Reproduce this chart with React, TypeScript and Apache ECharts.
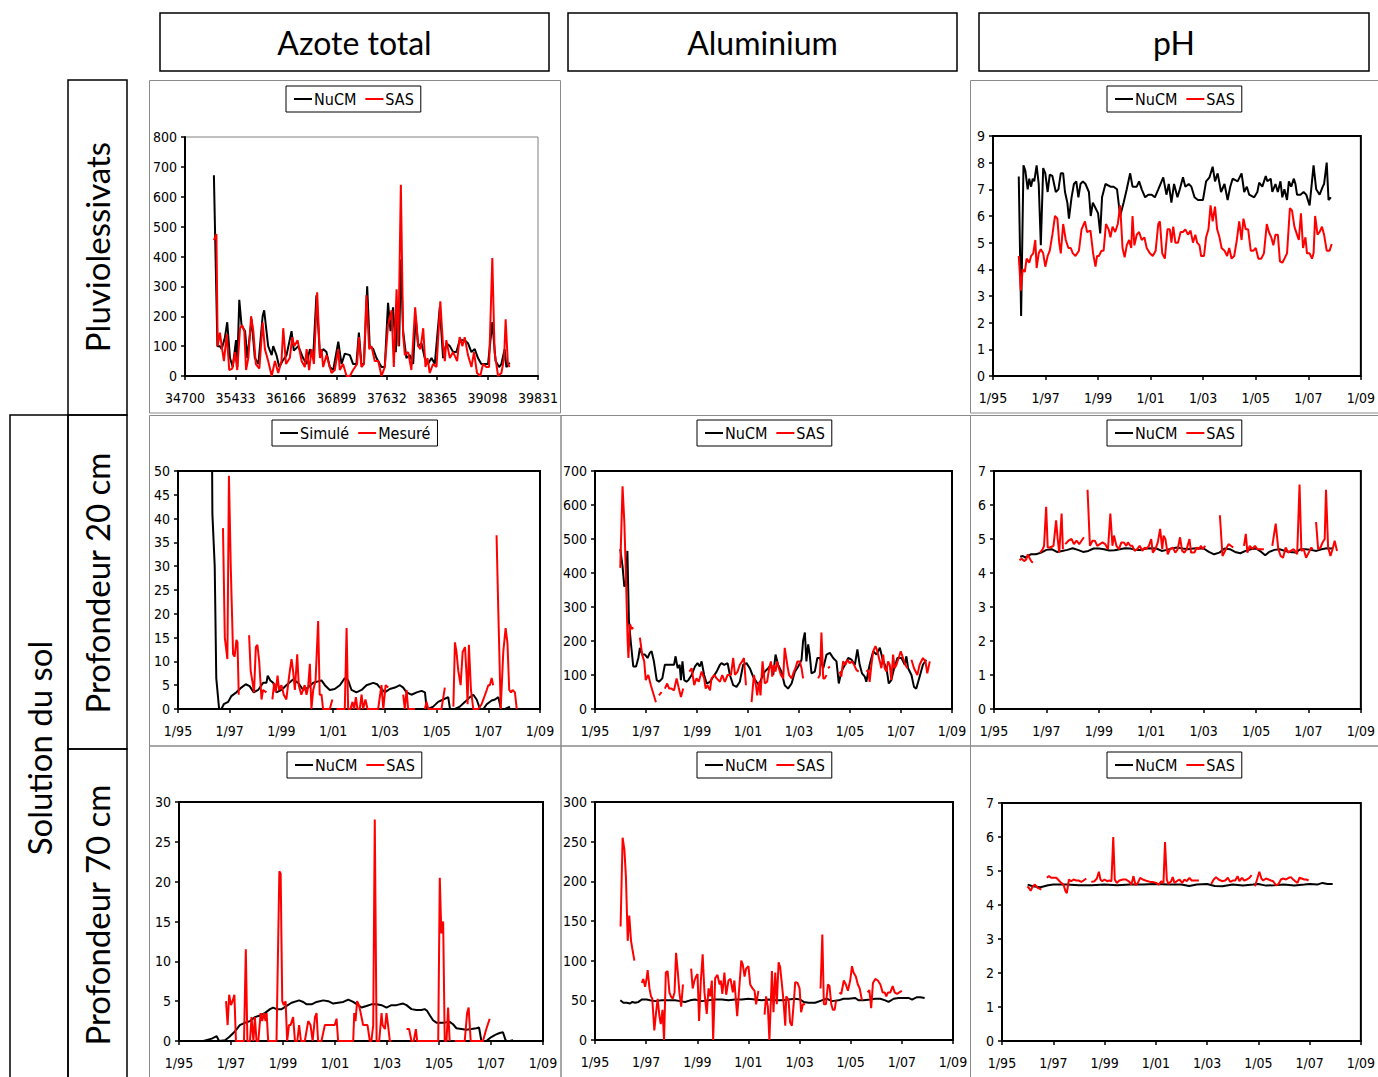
import React, { useEffect, useRef } from 'react';
import * as echarts from 'echarts';

// ---------- DATA (decimal years, values) ----------
const columnTitles = ['Azote total', 'Aluminium', 'pH'];
const rowTitles = ['Pluviolessivats', 'Profondeur 20 cm', 'Profondeur 70 cm'];
const groupTitle = 'Solution du sol';
const serialTicks = [34700, 39831, 733];

const azPluvioNucm = [[1996.15,672],[1996.29,100],[1996.39,100],[1996.46,90],[1996.59,130],[1996.68,180],[1996.79,60],[1996.90,30],[1997.03,120],[1997.08,30],[1997.16,255],[1997.25,170],[1997.39,150],[1997.48,60],[1997.65,190],[1997.78,60],[1997.92,40],[1998.09,200],[1998.15,220],[1998.31,100],[1998.45,70],[1998.51,100],[1998.64,70],[1998.75,30],[1998.88,50],[1999.04,70],[1999.24,150],[1999.33,85],[1999.51,100],[1999.70,60],[1999.84,40],[1999.97,90],[2000.10,60],[2000.23,270],[2000.37,70],[2000.50,90],[2000.63,80],[2000.76,30],[2000.90,20],[2001.10,115],[2001.23,40],[2001.36,75],[2001.56,70],[2001.69,40],[2001.82,40],[2001.92,145],[2002.02,40],[2002.12,40],[2002.25,300],[2002.35,100],[2002.49,90],[2002.62,60],[2002.82,30],[2002.95,30],[2003.08,245],[2003.18,150],[2003.28,230],[2003.39,80],[2003.44,230],[2003.52,100],[2003.59,390],[2003.68,150],[2003.81,60],[2003.95,70],[2004.08,40],[2004.18,200],[2004.28,100],[2004.41,110],[2004.54,60],[2004.67,40],[2004.81,60],[2004.94,40],[2005.14,230],[2005.27,60],[2005.40,110],[2005.54,100],[2005.67,80],[2005.80,80],[2005.93,120],[2006.13,120],[2006.26,110],[2006.40,80],[2006.53,90],[2006.66,60],[2006.79,40],[2006.93,40],[2007.06,40],[2007.23,180],[2007.36,50],[2007.50,30],[2007.59,40],[2007.72,90],[2007.79,30],[2007.92,45]];
const azPluvioSas = [[1996.15,455],[1996.25,475],[1996.30,100],[1996.39,145],[1996.46,100],[1996.55,50],[1996.66,140],[1996.76,20],[1996.88,25],[1996.99,80],[1997.08,20],[1997.19,160],[1997.27,170],[1997.36,150],[1997.43,20],[1997.52,60],[1997.63,200],[1997.72,150],[1997.82,40],[1997.96,25],[1998.09,180],[1998.18,90],[1998.31,50],[1998.45,0],[1998.58,50],[1998.71,10],[1998.84,50],[1998.91,160],[1999.02,40],[1999.17,60],[1999.27,130],[1999.35,100],[1999.48,120],[1999.64,50],[1999.77,30],[1999.84,90],[1999.94,20],[2000.04,90],[2000.13,40],[2000.26,280],[2000.37,60],[2000.43,90],[2000.50,30],[2000.63,70],[2000.83,10],[2000.96,20],[2001.10,90],[2001.16,20],[2001.29,40],[2001.43,0],[2001.56,0],[2001.69,20],[2001.85,40],[2001.92,130],[2002.02,30],[2002.12,40],[2002.22,270],[2002.33,90],[2002.42,100],[2002.55,50],[2002.69,50],[2002.82,0],[2002.95,30],[2003.08,170],[2003.22,220],[2003.31,30],[2003.42,290],[2003.49,100],[2003.59,640],[2003.68,140],[2003.75,70],[2003.88,80],[2004.01,20],[2004.16,230],[2004.28,100],[2004.37,90],[2004.48,160],[2004.57,30],[2004.65,60],[2004.74,10],[2004.87,40],[2005.01,30],[2005.16,250],[2005.27,100],[2005.34,50],[2005.40,120],[2005.54,60],[2005.67,80],[2005.83,50],[2005.93,130],[2006.04,100],[2006.13,130],[2006.26,70],[2006.40,30],[2006.50,80],[2006.62,10],[2006.75,0],[2006.86,40],[2006.99,30],[2007.10,30],[2007.23,395],[2007.32,80],[2007.46,0],[2007.59,10],[2007.70,60],[2007.76,190],[2007.85,40],[2007.92,30]];

const phPluvioNucm = [[1995.98,7.48],[1996.07,2.25],[1996.16,7.9],[1996.23,7.7],[1996.32,7.0],[1996.38,7.4],[1996.45,7.1],[1996.51,7.4],[1996.57,7.3],[1996.66,7.9],[1996.74,7.2],[1996.82,4.9],[1996.91,7.8],[1996.99,7.6],[1997.08,6.9],[1997.16,7.55],[1997.26,7.5],[1997.39,6.9],[1997.49,7.0],[1997.58,7.6],[1997.67,7.6],[1997.74,6.9],[1997.83,6.5],[1997.89,5.9],[1997.99,6.7],[1998.08,7.2],[1998.17,7.3],[1998.25,6.7],[1998.33,7.2],[1998.42,7.3],[1998.52,7.2],[1998.65,6.9],[1998.72,6.0],[1998.80,6.5],[1998.90,6.3],[1999.00,6.1],[1999.08,5.35],[1999.15,6.7],[1999.28,7.2],[1999.47,7.1],[1999.59,7.1],[1999.72,7.0],[1999.84,6.0],[1999.97,6.5],[2000.09,7.0],[2000.22,7.6],[2000.31,7.1],[2000.47,7.1],[2000.56,7.3],[2000.66,7.0],[2000.79,6.7],[2000.91,6.8],[2001.04,6.8],[2001.16,6.7],[2001.29,7.0],[2001.48,7.45],[2001.60,6.8],[2001.69,7.2],[2001.79,6.5],[2001.89,7.2],[2002.02,6.7],[2002.11,7.0],[2002.23,7.45],[2002.32,7.1],[2002.45,7.2],[2002.55,7.1],[2002.67,6.7],[2002.80,6.6],[2002.99,6.6],[2003.11,7.3],[2003.24,7.45],[2003.36,7.85],[2003.45,7.3],[2003.55,7.6],[2003.68,6.9],[2003.81,7.2],[2003.93,6.6],[2004.03,7.1],[2004.12,7.4],[2004.31,7.3],[2004.46,7.6],[2004.56,6.9],[2004.66,7.1],[2004.75,6.8],[2004.94,6.7],[2005.06,6.9],[2005.13,7.25],[2005.25,7.1],[2005.38,7.5],[2005.44,7.3],[2005.57,7.4],[2005.63,6.9],[2005.75,7.2],[2005.84,6.9],[2005.94,7.3],[2006.01,6.7],[2006.09,7.0],[2006.19,6.6],[2006.26,7.3],[2006.35,7.1],[2006.45,7.4],[2006.51,7.2],[2006.57,6.8],[2006.70,6.8],[2006.82,6.9],[2006.92,6.8],[2007.05,6.4],[2007.20,7.9],[2007.30,7.0],[2007.43,6.8],[2007.55,7.1],[2007.60,7.2],[2007.70,8.0],[2007.77,6.6],[2007.86,6.7]];
const phPluvioSas = [[1995.98,4.5],[1996.06,3.2],[1996.13,4.0],[1996.21,3.9],[1996.28,4.4],[1996.38,4.25],[1996.45,4.5],[1996.53,4.6],[1996.61,5.1],[1996.66,4.05],[1996.74,4.6],[1996.82,4.75],[1996.91,4.6],[1996.99,4.1],[1997.08,4.5],[1997.16,4.7],[1997.26,5.3],[1997.36,6.0],[1997.45,5.9],[1997.52,5.0],[1997.58,4.6],[1997.67,5.7],[1997.77,5.1],[1997.87,4.8],[1997.96,4.8],[1998.04,4.6],[1998.14,4.5],[1998.27,4.7],[1998.37,5.5],[1998.50,5.8],[1998.58,5.4],[1998.71,5.45],[1998.81,4.6],[1998.90,4.1],[1998.96,4.5],[1999.03,4.5],[1999.13,4.7],[1999.21,4.7],[1999.30,5.7],[1999.40,5.5],[1999.47,5.2],[1999.55,5.6],[1999.65,5.4],[1999.75,5.7],[1999.84,6.4],[1999.93,4.8],[2000.01,4.45],[2000.09,4.9],[2000.18,5.1],[2000.26,4.8],[2000.31,6.0],[2000.38,4.9],[2000.47,5.3],[2000.56,5.4],[2000.66,5.1],[2000.76,5.2],[2000.85,4.8],[2000.97,4.6],[2001.08,4.5],[2001.19,4.7],[2001.29,5.7],[2001.35,5.8],[2001.44,4.6],[2001.54,4.4],[2001.64,5.5],[2001.73,5.5],[2001.79,5.0],[2001.86,5.6],[2001.94,5.0],[2002.04,5.0],[2002.14,5.4],[2002.23,5.4],[2002.32,5.5],[2002.42,5.3],[2002.52,5.45],[2002.61,5.0],[2002.70,5.3],[2002.77,5.0],[2002.86,4.9],[2002.92,4.5],[2003.03,4.5],[2003.11,5.2],[2003.20,5.5],[2003.28,6.4],[2003.36,5.8],[2003.45,6.35],[2003.53,5.5],[2003.62,5.2],[2003.70,4.8],[2003.81,4.7],[2003.91,4.5],[2003.99,4.8],[2004.08,4.4],[2004.18,4.5],[2004.28,5.1],[2004.37,5.8],[2004.46,5.1],[2004.53,5.9],[2004.62,5.5],[2004.71,5.5],[2004.81,4.7],[2004.91,4.7],[2005.00,4.8],[2005.10,4.4],[2005.21,4.4],[2005.31,4.6],[2005.42,5.7],[2005.50,5.4],[2005.59,5.2],[2005.67,4.9],[2005.75,5.3],[2005.84,5.3],[2005.92,4.3],[2006.01,4.25],[2006.09,4.4],[2006.19,4.6],[2006.30,6.3],[2006.38,6.2],[2006.47,5.6],[2006.57,5.3],[2006.64,5.1],[2006.72,6.1],[2006.80,4.8],[2006.89,5.2],[2006.95,4.6],[2007.05,4.6],[2007.14,4.4],[2007.20,4.6],[2007.26,6.0],[2007.35,5.3],[2007.43,5.4],[2007.52,5.6],[2007.60,5.3],[2007.70,4.7],[2007.81,4.7],[2007.89,4.95]];

const az20Simule = [[1996.24,120],[1996.33,41],[1996.42,30],[1996.48,6.5],[1996.59,0],[1996.68,0],[1996.77,1],[1996.94,1.5],[1997.06,2.7],[1997.26,3.5],[1997.45,4.5],[1997.62,5.2],[1997.77,4.8],[1997.93,3.5],[1998.10,4.0],[1998.29,5.5],[1998.42,5.5],[1998.47,7.0],[1998.57,6.0],[1998.68,5.5],[1998.81,3.5],[1999.00,4.0],[1999.19,5.0],[1999.45,6.2],[1999.65,5.5],[1999.84,4.0],[2000.03,4.5],[2000.23,5.5],[2000.42,5.8],[2000.55,6.0],[2000.68,5.0],[2000.87,4.0],[2001.06,4.2],[2001.26,5.0],[2001.45,6.5],[2001.58,6.0],[2001.71,4.0],[2001.90,3.5],[2002.10,4.0],[2002.29,5.0],[2002.55,5.5],[2002.70,5.2],[2002.81,4.5],[2003.00,3.5],[2003.19,4.2],[2003.39,4.5],[2003.58,5.0],[2003.71,4.5],[2003.84,3.5],[2004.03,3.0],[2004.23,3.5],[2004.42,3.8],[2004.55,3.5],[2004.61,0.5],[2004.68,0],[2004.87,0.5],[2005.06,1.5],[2005.26,2.0],[2005.45,2.5],[2005.52,0],[2005.71,0],[2005.90,0.5],[2006.10,1.5],[2006.29,2.5],[2006.42,3.0],[2006.55,2.0],[2006.68,0],[2006.81,0],[2006.94,1.0],[2007.13,1.8],[2007.26,2.0],[2007.39,2.5],[2007.49,0],[2007.65,0],[2007.84,0.5]];
const az20Mesure = [[1996.74,38],[1996.81,15],[1996.91,10.5],[1996.97,49],[1997.04,30],[1997.13,11.5],[1997.19,11],[1997.26,14.5],[1997.30,14],[1997.35,3],[1997.5,null],[1997.75,15.5],[1997.81,8],[1997.90,5],[1997.94,3.5],[1998.01,13],[1998.07,13.5],[1998.14,10],[1998.23,2],[1998.29,4],[1998.42,3.5],[1998.55,null],[1998.65,2],[1998.72,5.5],[1998.78,3.5],[1998.85,7],[1998.91,4],[1999.00,5],[1999.09,3],[1999.19,2],[1999.30,7],[1999.39,10.5],[1999.45,8],[1999.52,4],[1999.61,11.5],[1999.67,5],[1999.77,3],[1999.90,5],[1999.97,3],[2000.03,4.5],[2000.10,9.5],[2000.16,0],[2000.23,4],[2000.32,6],[2000.42,18.5],[2000.48,3],[2000.55,3],[2000.61,0],[2000.74,0],[2000.87,0],[2000.97,2],[2001.05,null],[2001.13,0],[2001.26,0],[2001.39,0],[2001.45,0],[2001.52,17],[2001.58,0],[2001.67,0],[2001.75,1.5],[2001.81,0],[2001.88,2.5],[2001.94,0],[2002.03,0],[2002.10,3],[2002.16,0],[2002.25,2],[2002.33,0],[2002.48,0],[2002.61,0],[2002.74,0],[2002.87,5],[2002.94,0],[2003.03,5],[2003.13,4.5],[2003.4,null],[2003.71,3],[2003.77,0],[2003.84,4],[2003.90,0],[2004.03,0],[2004.16,0],[2004.35,null],[2004.55,0],[2004.61,1.5],[2004.68,0],[2004.87,0],[2005.06,0],[2005.19,0],[2005.32,4.5],[2005.5,null],[2005.65,0.5],[2005.71,14],[2005.77,12],[2005.84,8],[2005.93,5],[2006.01,12],[2006.10,13],[2006.16,7],[2006.20,1],[2006.25,13.5],[2006.33,4],[2006.42,0],[2006.61,0],[2006.74,1],[2006.81,2],[2006.94,4],[2007.00,5],[2007.06,5],[2007.13,6.5],[2007.19,5],[2007.25,null],[2007.32,36.5],[2007.39,20],[2007.48,0],[2007.58,12],[2007.67,17],[2007.74,14],[2007.81,4],[2007.88,3.5],[2007.94,4],[2008.03,3.5],[2008.10,0]];

const al20Nucm = [[1995.99,470],[1996.08,420],[1996.15,360],[1996.21,370],[1996.27,465],[1996.33,260],[1996.40,200],[1996.50,125],[1996.61,125],[1996.70,150],[1996.76,180],[1996.85,160],[1996.96,160],[1997.06,150],[1997.15,165],[1997.22,170],[1997.31,140],[1997.42,85],[1997.51,80],[1997.64,90],[1997.74,130],[1997.87,130],[1998.00,130],[1998.10,130],[1998.16,155],[1998.24,120],[1998.32,130],[1998.37,85],[1998.43,140],[1998.50,85],[1998.59,80],[1998.66,85],[1998.79,100],[1998.92,125],[1999.02,135],[1999.11,125],[1999.18,140],[1999.28,100],[1999.38,75],[1999.51,80],[1999.64,95],[1999.77,110],[1999.90,130],[1999.96,135],[2000.07,130],[2000.20,135],[2000.29,100],[2000.42,70],[2000.55,65],[2000.68,80],[2000.81,130],[2000.94,135],[2001.07,120],[2001.20,95],[2001.33,80],[2001.43,70],[2001.53,90],[2001.66,110],[2001.79,120],[2001.90,130],[2001.99,100],[2002.08,160],[2002.18,130],[2002.31,110],[2002.44,70],[2002.57,60],[2002.71,75],[2002.84,110],[2002.97,125],[2003.10,145],[2003.16,200],[2003.23,225],[2003.29,140],[2003.36,190],[2003.42,160],[2003.49,105],[2003.62,110],[2003.72,150],[2003.82,150],[2003.95,120],[2004.08,160],[2004.21,165],[2004.34,150],[2004.47,140],[2004.56,75],[2004.66,110],[2004.80,130],[2004.93,150],[2005.06,145],[2005.19,130],[2005.29,175],[2005.38,130],[2005.47,105],[2005.58,95],[2005.64,80],[2005.77,130],[2005.91,170],[2006.04,160],[2006.17,180],[2006.30,140],[2006.43,120],[2006.52,75],[2006.62,85],[2006.73,120],[2006.86,150],[2007.02,150],[2007.15,130],[2007.21,155],[2007.28,120],[2007.41,100],[2007.51,65],[2007.60,60],[2007.73,95],[2007.86,130],[2007.99,145]];
const al20Sas = [[1995.99,415],[1996.08,655],[1996.15,550],[1996.21,400],[1996.28,200],[1996.31,150],[1996.37,250],[1996.44,235],[1996.50,240],[1996.6,null],[1996.76,210],[1996.85,160],[1996.93,140],[1996.99,85],[1997.09,100],[1997.19,70],[1997.29,45],[1997.39,20],[1997.45,null],[1997.51,40],[1997.61,50],[1997.68,null],[1997.74,60],[1997.83,75],[1997.91,60],[1998.00,60],[1998.10,55],[1998.20,90],[1998.29,60],[1998.37,35],[1998.46,60],[1998.6,null],[1998.70,110],[1998.79,120],[1998.89,70],[1998.98,90],[1999.07,80],[1999.18,110],[1999.28,90],[1999.34,60],[1999.41,70],[1999.51,55],[1999.57,90],[1999.68,100],[1999.77,90],[1999.90,80],[1999.99,100],[2000.09,80],[2000.20,100],[2000.33,100],[2000.42,150],[2000.49,100],[2000.59,110],[2000.68,130],[2000.77,140],[2000.84,150],[2000.92,70],[2001.03,null],[2001.14,20],[2001.23,100],[2001.31,70],[2001.36,40],[2001.43,80],[2001.49,40],[2001.57,140],[2001.66,75],[2001.75,80],[2001.83,120],[2001.90,140],[2001.95,95],[2002.01,130],[2002.08,110],[2002.14,140],[2002.21,120],[2002.29,100],[2002.38,90],[2002.44,180],[2002.54,130],[2002.61,100],[2002.71,90],[2002.80,110],[2002.86,120],[2002.94,140],[2003.03,140],[2003.10,120],[2003.16,90],[2003.45,null],[2003.75,90],[2003.82,100],[2003.88,225],[2003.95,90],[2004.01,90],[2004.08,100],[2004.11,null],[2004.14,120],[2004.21,125],[2004.4,null],[2004.60,110],[2004.66,95],[2004.73,140],[2004.82,130],[2004.90,145],[2004.99,135],[2005.08,140],[2005.16,130],[2005.25,115],[2005.34,110],[2005.5,null],[2005.64,110],[2005.71,115],[2005.77,80],[2005.84,130],[2005.91,170],[2006.00,185],[2006.07,170],[2006.17,140],[2006.23,120],[2006.30,160],[2006.36,120],[2006.43,110],[2006.49,140],[2006.56,130],[2006.62,85],[2006.69,160],[2006.75,120],[2006.82,130],[2006.91,150],[2006.99,170],[2007.08,150],[2007.17,130],[2007.25,120],[2007.33,null],[2007.41,145],[2007.51,120],[2007.64,100],[2007.73,130],[2007.86,150],[2007.96,140],[2008.03,105],[2008.13,140]];

const ph20Nucm = [[1996.0,4.48],[1996.1,4.5],[1996.2,4.45],[1996.4,4.55],[1996.6,4.55],[1996.8,4.6],[1997.0,4.68],[1997.2,4.7],[1997.4,4.62],[1997.6,4.65],[1997.8,4.68],[1998.0,4.73],[1998.2,4.68],[1998.4,4.62],[1998.6,4.65],[1998.8,4.72],[1999.0,4.72],[1999.2,4.7],[1999.4,4.66],[1999.6,4.67],[1999.8,4.7],[2000.0,4.73],[2000.2,4.72],[2000.4,4.68],[2000.6,4.68],[2000.8,4.72],[2001.0,4.73],[2001.2,4.72],[2001.4,4.65],[2001.6,4.68],[2001.8,4.73],[2002.0,4.75],[2002.2,4.72],[2002.4,4.7],[2002.6,4.72],[2002.8,4.73],[2003.0,4.72],[2003.2,4.62],[2003.4,4.55],[2003.6,4.6],[2003.8,4.72],[2004.0,4.7],[2004.2,4.62],[2004.4,4.58],[2004.6,4.65],[2004.8,4.7],[2005.0,4.72],[2005.2,4.62],[2005.35,4.52],[2005.5,4.62],[2005.7,4.68],[2005.9,4.7],[2006.1,4.65],[2006.3,4.62],[2006.5,4.6],[2006.7,4.7],[2006.9,4.7],[2007.1,4.68],[2007.3,4.65],[2007.5,4.7],[2007.7,4.73],[2007.9,4.72]];
const ph20Sas = [[1995.97,4.38],[1996.06,4.42],[1996.15,4.35],[1996.23,4.4],[1996.29,4.55],[1996.35,4.45],[1996.42,4.35],[1996.48,4.3],[1996.6,null],[1996.76,4.6],[1996.86,4.7],[1996.91,4.8],[1996.99,5.95],[1997.05,4.75],[1997.14,4.75],[1997.27,4.8],[1997.37,5.55],[1997.43,5.0],[1997.49,4.6],[1997.58,5.75],[1997.63,4.7],[1997.68,null],[1997.72,4.85],[1997.84,4.95],[1997.96,5.0],[1998.05,4.85],[1998.15,4.95],[1998.25,4.85],[1998.34,4.95],[1998.43,5.05],[1998.5,null],[1998.57,6.45],[1998.66,4.8],[1998.76,4.95],[1998.85,4.95],[1998.94,4.8],[1999.04,4.85],[1999.14,4.9],[1999.24,4.85],[1999.35,4.7],[1999.44,5.75],[1999.52,4.8],[1999.58,5.1],[1999.67,4.8],[1999.77,4.7],[1999.86,4.9],[1999.95,4.9],[2000.05,4.8],[2000.11,4.9],[2000.20,4.8],[2000.28,4.8],[2000.37,4.65],[2000.46,4.7],[2000.56,4.8],[2000.66,4.65],[2000.75,4.75],[2000.81,4.7],[2000.91,4.8],[2001.00,5.0],[2001.06,4.6],[2001.16,4.7],[2001.25,4.9],[2001.34,5.3],[2001.42,4.7],[2001.47,5.1],[2001.54,5.0],[2001.63,4.55],[2001.72,4.7],[2001.82,4.75],[2001.92,4.6],[2002.01,4.7],[2002.10,5.05],[2002.18,4.65],[2002.27,4.6],[2002.35,4.7],[2002.46,5.0],[2002.52,4.6],[2002.65,4.6],[2002.73,4.75],[2002.81,4.7],[2002.90,4.8],[2002.96,4.7],[2003.06,4.8],[2003.35,null],[2003.62,5.7],[2003.72,4.5],[2003.85,4.7],[2003.95,4.85],[2004.04,4.8],[2004.13,4.75],[2004.35,null],[2004.54,4.8],[2004.61,5.15],[2004.67,4.6],[2004.76,4.8],[2004.86,4.7],[2004.96,4.8],[2005.05,4.7],[2005.18,4.7],[2005.30,4.7],[2005.45,null],[2005.62,4.8],[2005.75,5.45],[2005.85,4.7],[2005.94,4.5],[2006.03,4.45],[2006.13,4.75],[2006.23,4.6],[2006.32,4.65],[2006.44,4.7],[2006.57,4.55],[2006.66,6.6],[2006.73,4.65],[2006.82,4.7],[2006.91,4.45],[2007.01,4.6],[2007.11,4.75],[2007.16,4.7],[2007.22,null],[2007.29,5.5],[2007.37,4.7],[2007.46,4.75],[2007.54,4.9],[2007.62,5.0],[2007.67,6.45],[2007.75,4.75],[2007.84,4.5],[2007.92,4.7],[2008.00,4.95],[2008.09,4.65]];

const az70Nucm = [[1995.94,0],[1996.26,0.3],[1996.45,0.6],[1996.54,0],[1996.77,0.1],[1996.93,0.5],[1997.15,1.2],[1997.34,2.0],[1997.54,2.3],[1997.73,2.5],[1997.92,3.0],[1998.11,3.2],[1998.30,3.5],[1998.50,4.0],[1998.62,4.2],[1998.75,4.0],[1998.95,4.0],[1999.14,4.4],[1999.33,4.8],[1999.62,5.1],[1999.78,4.9],[1999.91,4.6],[2000.10,4.6],[2000.29,4.9],[2000.55,5.1],[2000.74,5.0],[2000.93,4.7],[2001.12,4.8],[2001.32,4.9],[2001.51,5.2],[2001.70,4.9],[2001.89,4.5],[2002.02,4.2],[2002.21,4.4],[2002.40,4.6],[2002.60,4.6],[2002.79,4.5],[2002.98,4.2],[2003.17,4.5],[2003.36,4.5],[2003.62,4.7],[2003.75,4.5],[2003.94,4.0],[2004.13,3.9],[2004.32,3.9],[2004.45,4.0],[2004.54,3.8],[2004.65,3.2],[2004.77,2.6],[2004.90,2.3],[2005.16,2.3],[2005.41,2.4],[2005.54,2.1],[2005.67,1.6],[2005.86,1.5],[2006.05,1.4],[2006.25,1.5],[2006.44,1.6],[2006.54,1.7],[2006.63,0],[2006.82,0],[2007.01,0.5],[2007.18,0.8],[2007.33,1.0],[2007.46,1.1],[2007.55,0.2],[2007.59,0],[2007.72,0],[2007.85,0.1]];
const az70Sas = [[1996.81,5],[1996.87,2],[1996.93,5.8],[1997.00,4.5],[1997.06,5],[1997.13,5.8],[1997.19,0],[1997.28,0],[1997.41,0],[1997.50,0],[1997.57,11.5],[1997.63,0],[1997.73,0],[1997.79,3],[1997.86,0],[1997.92,3],[1997.98,0],[1998.05,0],[1998.14,3.5],[1998.20,2.5],[1998.27,3.5],[1998.33,2.5],[1998.37,3.5],[1998.43,0],[1998.75,0],[1998.86,21.3],[1998.91,21],[1998.97,5],[1999.03,4.5],[1999.10,5],[1999.16,0],[1999.23,2],[1999.29,2],[1999.39,3],[1999.46,0],[1999.55,0],[1999.62,2],[1999.69,0],[1999.84,0],[1999.97,2.5],[2000.06,2],[2000.14,0],[2000.23,3],[2000.29,3.5],[2000.35,0],[2000.48,0],[2000.61,2],[2000.74,2],[2000.87,2],[2000.99,2],[2001.06,2.8],[2001.12,0],[2001.32,0],[2001.44,0],[2001.70,0],[2001.74,3.5],[2001.79,2.5],[2001.85,5],[2001.92,4.5],[2001.99,3.5],[2002.08,2],[2002.19,2],[2002.25,2],[2002.34,0],[2002.40,0],[2002.47,2],[2002.53,27.8],[2002.60,0],[2002.70,0],[2002.79,3.5],[2002.83,2],[2002.92,1.5],[2002.98,3.5],[2003.04,2],[2003.11,0],[2003.17,0],[2003.45,null],[2003.75,1.5],[2003.85,1.5],[2003.94,0],[2004.03,0],[2004.11,1.5],[2004.16,0],[2004.26,0],[2004.52,0],[2004.77,0],[2004.97,0],[2005.03,20.5],[2005.09,13.5],[2005.16,15],[2005.22,0],[2005.29,0],[2005.35,4.2],[2005.41,0],[2005.5,null],[2005.61,0],[2005.80,0],[2005.99,0],[2006.08,3.5],[2006.14,4.2],[2006.22,0],[2006.37,0],[2006.69,0],[2006.82,1.5],[2006.95,2.8]];

const al70Nucm = [[1995.99,50],[1996.11,47],[1996.24,47],[1996.37,46],[1996.46,48],[1996.57,47],[1996.70,48],[1996.83,51],[1997.02,51],[1997.15,50],[1997.35,49],[1997.61,50],[1997.87,50],[1998.13,50],[1998.33,49],[1998.52,48],[1998.72,50],[1998.91,51],[1999.18,49],[1999.44,50],[1999.70,51],[1999.96,51],[2000.22,50],[2000.48,51],[2000.74,51],[2001.00,52],[2001.26,51],[2001.52,50],[2001.79,51],[2002.05,50],[2002.31,50],[2002.57,51],[2002.83,52],[2003.02,51],[2003.16,48],[2003.35,47],[2003.61,47],[2003.87,50],[2004.07,52],[2004.26,49],[2004.53,50],[2004.72,52],[2004.92,52],[2005.18,53],[2005.31,50],[2005.50,50],[2005.76,51],[2005.96,52],[2006.16,52],[2006.35,50],[2006.48,48],[2006.68,52],[2006.87,53],[2007.07,53],[2007.26,53],[2007.40,51],[2007.59,54],[2007.72,54],[2007.89,53]];
const al70Sas = [[1996.00,143],[1996.08,255],[1996.15,240],[1996.21,205],[1996.28,125],[1996.34,157],[1996.41,125],[1996.46,115],[1996.54,100],[1996.7,null],[1996.83,72],[1996.89,77],[1996.96,67],[1997.02,78],[1997.06,88],[1997.13,65],[1997.19,55],[1997.24,52],[1997.32,12],[1997.39,35],[1997.45,52],[1997.52,30],[1997.57,20],[1997.64,38],[1997.70,0],[1997.77,85],[1997.84,87],[1997.91,60],[1997.97,55],[1998.04,52],[1998.11,60],[1998.17,110],[1998.24,85],[1998.30,60],[1998.37,42],[1998.44,70],[1998.6,null],[1998.76,90],[1998.82,65],[1998.89,75],[1998.95,80],[1999.01,83],[1999.07,24],[1999.14,75],[1999.21,108],[1999.28,60],[1999.37,33],[1999.44,65],[1999.50,55],[1999.57,75],[1999.62,0],[1999.70,78],[1999.79,82],[1999.87,70],[1999.92,75],[1999.98,58],[2000.06,85],[2000.13,57],[2000.22,75],[2000.30,77],[2000.39,60],[2000.45,75],[2000.56,30],[2000.64,65],[2000.72,100],[2000.78,95],[2000.85,80],[2000.91,90],[2001.00,93],[2001.07,70],[2001.16,65],[2001.24,62],[2001.30,45],[2001.39,62],[2001.5,null],[2001.63,32],[2001.69,55],[2001.76,42],[2001.82,0],[2001.92,87],[2001.98,35],[2002.05,85],[2002.11,45],[2002.18,98],[2002.24,92],[2002.31,70],[2002.37,50],[2002.44,18],[2002.48,55],[2002.57,50],[2002.63,22],[2002.70,18],[2002.78,50],[2002.83,73],[2002.92,72],[2003.00,65],[2003.06,35],[2003.13,45],[2003.22,45],[2003.5,null],[2003.82,65],[2003.89,133],[2003.95,45],[2004.03,45],[2004.11,70],[2004.17,68],[2004.24,45],[2004.30,38],[2004.37,38],[2004.43,50],[2004.5,null],[2004.56,60],[2004.63,58],[2004.73,75],[2004.81,70],[2004.89,62],[2004.98,75],[2005.05,93],[2005.11,85],[2005.20,80],[2005.28,70],[2005.35,65],[2005.44,50],[2005.55,null],[2005.66,60],[2005.73,63],[2005.80,40],[2005.87,72],[2005.96,77],[2006.06,75],[2006.16,70],[2006.25,60],[2006.33,60],[2006.39,55],[2006.46,60],[2006.55,60],[2006.64,68],[2006.72,60],[2006.81,58],[2006.90,60],[2007.00,62]];

const ph70Nucm = [[1996.0,4.6],[1996.2,4.55],[1996.5,4.52],[1996.8,4.58],[1997.0,4.6],[1997.5,4.6],[1998.0,4.58],[1998.5,4.58],[1999.0,4.6],[1999.5,4.58],[2000.0,4.6],[2000.5,4.6],[2001.0,4.62],[2001.5,4.6],[2002.0,4.6],[2002.3,4.56],[2002.6,4.6],[2003.0,4.62],[2003.3,4.56],[2003.6,4.55],[2004.0,4.6],[2004.4,4.57],[2004.8,4.6],[2005.0,4.62],[2005.3,4.57],[2005.6,4.58],[2006.0,4.6],[2006.4,4.57],[2006.8,4.6],[2007.0,4.62],[2007.3,4.6],[2007.5,4.65],[2007.7,4.62],[2007.9,4.62]];
const ph70Sas = [[1995.99,4.55],[1996.05,4.5],[1996.12,4.42],[1996.18,4.52],[1996.27,4.6],[1996.34,4.55],[1996.40,4.5],[1996.47,4.48],[1996.53,4.45],[1996.65,null],[1996.75,4.8],[1996.83,4.85],[1996.92,4.8],[1997.03,4.8],[1997.12,4.8],[1997.22,4.72],[1997.31,4.65],[1997.40,4.6],[1997.48,4.4],[1997.53,4.35],[1997.61,4.75],[1997.70,4.7],[1997.79,4.75],[1997.90,4.72],[1998.00,4.72],[1998.09,4.68],[1998.18,4.72],[1998.29,4.78],[1998.4,null],[1998.48,4.68],[1998.61,4.7],[1998.70,4.78],[1998.78,4.98],[1998.84,4.75],[1998.91,4.7],[1999.00,4.75],[1999.10,4.7],[1999.19,4.72],[1999.27,4.7],[1999.34,6.0],[1999.40,4.75],[1999.48,4.65],[1999.58,4.72],[1999.71,4.75],[1999.84,4.75],[1999.97,4.68],[2000.05,4.6],[2000.13,4.85],[2000.21,4.58],[2000.30,4.65],[2000.39,4.8],[2000.49,4.75],[2000.60,4.72],[2000.69,4.7],[2000.78,4.68],[2000.88,4.68],[2001.01,4.65],[2001.12,4.6],[2001.21,4.7],[2001.30,4.65],[2001.36,5.85],[2001.43,4.75],[2001.49,4.62],[2001.60,4.7],[2001.66,4.82],[2001.73,4.65],[2001.82,4.7],[2001.92,4.75],[2002.03,4.65],[2002.12,4.75],[2002.21,4.7],[2002.31,4.8],[2002.40,4.72],[2002.51,4.72],[2002.68,4.72],[2002.9,null],[2003.16,4.62],[2003.26,4.75],[2003.35,4.82],[2003.45,4.75],[2003.58,4.7],[2003.71,4.72],[2003.81,4.8],[2003.90,4.68],[2004.00,4.72],[2004.10,4.72],[2004.19,4.85],[2004.26,4.7],[2004.36,4.8],[2004.45,4.72],[2004.55,4.75],[2004.65,4.8],[2004.74,4.88],[2004.8,null],[2004.87,4.55],[2004.95,4.75],[2005.04,4.98],[2005.12,4.78],[2005.19,4.72],[2005.30,4.78],[2005.40,4.75],[2005.49,4.72],[2005.58,4.7],[2005.69,4.58],[2005.79,4.62],[2005.88,4.75],[2005.97,4.78],[2006.08,4.75],[2006.18,4.8],[2006.27,4.82],[2006.36,4.75],[2006.44,4.7],[2006.53,4.65],[2006.60,4.8],[2006.70,4.78],[2006.79,4.75],[2006.88,4.75],[2006.96,4.72]];

// ---------- LAYOUT ----------
const W = 1378;
const H = 1077;
const AXIS_FONT = "'Liberation Sans Narrow', 'Arial Narrow', 'DejaVu Sans Condensed', sans-serif";
const TITLE_FONT = "Lato, 'Open Sans', sans-serif";

type Panel = {
  grid: number[]; ymax: number; yint: number; legend: number[];
  names: string[]; a: any[]; b: any[]; serial?: boolean; thin?: boolean;
};

const panels: Panel[] = [
  { grid: [185, 137, 353, 239], ymax: 800, yint: 100, legend: [286, 86], names: ['NuCM', 'SAS'], a: azPluvioNucm, b: azPluvioSas, serial: true, thin: true },
  { grid: [993, 136, 371, 240], ymax: 9, yint: 1, legend: [1107, 86], names: ['NuCM', 'SAS'], a: phPluvioNucm, b: phPluvioSas },
  { grid: [178, 471, 362, 238], ymax: 50, yint: 5, legend: [272, 420], names: ['Simulé', 'Mesuré'], a: az20Simule, b: az20Mesure },
  { grid: [595, 471, 357, 238], ymax: 700, yint: 100, legend: [697, 420], names: ['NuCM', 'SAS'], a: al20Nucm, b: al20Sas },
  { grid: [994, 471, 368, 238], ymax: 7, yint: 1, legend: [1107, 420], names: ['NuCM', 'SAS'], a: ph20Nucm, b: ph20Sas },
  { grid: [179, 802, 364, 239], ymax: 30, yint: 5, legend: [287, 752], names: ['NuCM', 'SAS'], a: az70Nucm, b: az70Sas },
  { grid: [595, 802, 358, 238], ymax: 300, yint: 50, legend: [697, 752], names: ['NuCM', 'SAS'], a: al70Nucm, b: al70Sas },
  { grid: [1002, 803, 360, 238], ymax: 7, yint: 1, legend: [1107, 752], names: ['NuCM', 'SAS'], a: ph70Nucm, b: ph70Sas },
];

function conv(d: any[], serial?: boolean) {
  return d.map((p) => [serial ? serialTicks[0] + (p[0] - 1995) * 365.25 : p[0], p[1] == null ? '-' : p[1]]);
}

function buildOption() {
  const grid: any[] = [];
  const xAxis: any[] = [];
  const yAxis: any[] = [];
  const series: any[] = [];
  const legend: any[] = [];
  panels.forEach((p, i) => {
    grid.push({
      left: p.grid[0], top: p.grid[1], width: p.grid[2], height: p.grid[3],
      show: true, borderColor: p.thin ? '#808080' : '#000', borderWidth: p.thin ? 1 : 2,
      backgroundColor: 'transparent', containLabel: false,
    });
    const axisCommon = {
      gridIndex: i,
      axisLine: { show: true, onZero: false, lineStyle: { color: '#000', width: 2 } },
      axisTick: { show: true, length: 4, inside: false, lineStyle: { color: '#000', width: 1.5 } },
      splitLine: { show: false },
    };
    xAxis.push({
      ...axisCommon, type: 'value',
      min: p.serial ? serialTicks[0] : 1995,
      max: p.serial ? serialTicks[1] : 2009,
      interval: p.serial ? serialTicks[2] : 2,
      axisLabel: {
        color: '#000', fontSize: 14, fontFamily: AXIS_FONT, margin: 15,
        showMinLabel: true, showMaxLabel: true, hideOverlap: false,
        formatter: p.serial ? (v: number) => String(Math.round(v)) : (v: number) => '1/' + String(Math.round(v) % 100).padStart(2, '0'),
      },
    });
    yAxis.push({
      ...axisCommon, type: 'value', min: 0, max: p.ymax, interval: p.yint,
      axisLabel: { color: '#000', fontSize: 14, fontFamily: AXIS_FONT, margin: 8 },
    });
    series.push({
      type: 'line', name: p.names[0], xAxisIndex: i, yAxisIndex: i, data: conv(p.a, p.serial),
      showSymbol: false, symbol: 'none', clip: true, silent: true, z: 3,
      lineStyle: { color: '#000', width: 2 }, itemStyle: { color: '#000' },
    });
    series.push({
      type: 'line', name: p.names[1], xAxisIndex: i, yAxisIndex: i, data: conv(p.b, p.serial),
      showSymbol: false, symbol: 'none', clip: true, silent: true, z: 4,
      lineStyle: { color: '#ff0000', width: 2 }, itemStyle: { color: '#ff0000' },
    });
    legend.push({
      left: p.legend[0], top: p.legend[1], data: p.names, orient: 'horizontal',
      icon: 'rect', itemWidth: 18, itemHeight: 2, itemGap: 9,
      padding: [5, 7, 5, 8], borderColor: '#000', borderWidth: 1, backgroundColor: '#fff',
      selectedMode: false,
      textStyle: { fontSize: 16, fontFamily: AXIS_FONT, color: '#000', padding: [0, 0, 0, -3] },
    });
  });

  const rect = (x: number, y: number, w: number, h: number, stroke: string, lw: number) => ({
    type: 'rect', shape: { x, y, width: w, height: h }, silent: true, z: 0,
    style: { fill: 'none', stroke, lineWidth: lw },
  });
  const text = (t: string, x: number, y: number, size: number, rot: number) => ({
    type: 'text', x, y, rotation: rot, silent: true, z: 5,
    style: { text: t, fontSize: size, fontFamily: TITLE_FONT, fill: '#000', textAlign: 'center', textVerticalAlign: 'middle', align: 'center', verticalAlign: 'middle' },
  });
  const G = '#8a8a8a';
  const graphic = [
    // chart areas
    rect(149.5, 80.5, 411, 332.5, G, 1),
    rect(970.5, 80.5, 420, 332.5, G, 1),
    rect(149.5, 415.5, 411.5, 330.5, G, 1),
    rect(561, 415.5, 409.5, 330.5, G, 1),
    rect(970.5, 415.5, 420, 330.5, G, 1),
    rect(149.5, 746, 411.5, 345, G, 1),
    rect(561, 746, 409.5, 345, G, 1),
    rect(970.5, 746, 420, 345, G, 1),
    // header boxes
    rect(160, 13, 389, 58, '#000', 1.5),
    rect(568, 13, 389, 58, '#000', 1.5),
    rect(979, 13, 390, 58, '#000', 1.5),
    // row label boxes
    rect(68, 80, 59, 335, '#000', 1.5),
    rect(10, 415, 58, 680, '#000', 1.5),
    rect(68, 415, 59, 334, '#000', 1.5),
    rect(68, 749, 59, 346, '#000', 1.5),
    text(columnTitles[0], 354.5, 42, 32, 0),
    text(columnTitles[1], 762.5, 42, 32, 0),
    text(columnTitles[2], 1174, 42, 32, 0),
    text(rowTitles[0], 97, 247, 33, Math.PI / 2),
    text(rowTitles[1], 97, 583, 33, Math.PI / 2),
    text(rowTitles[2], 97, 915, 33, Math.PI / 2),
    text(groupTitle, 39, 748, 33, Math.PI / 2),
  ];

  return {
    animation: false,
    backgroundColor: '#fff',
    grid, xAxis, yAxis, series, legend, graphic,
    tooltip: { show: false },
  };
}

export default function App() {
  const ref = useRef<HTMLDivElement>(null);
  useEffect(() => {
    if (!ref.current) return;
    const chart = echarts.init(ref.current, null, { renderer: 'svg', width: W, height: H });
    chart.setOption(buildOption());
    return () => chart.dispose();
  }, []);
  return (
    <div
      ref={ref}
      style={{ position: 'absolute', left: 0, top: 0, width: W, height: H, background: '#fff' }}
    />
  );
}
